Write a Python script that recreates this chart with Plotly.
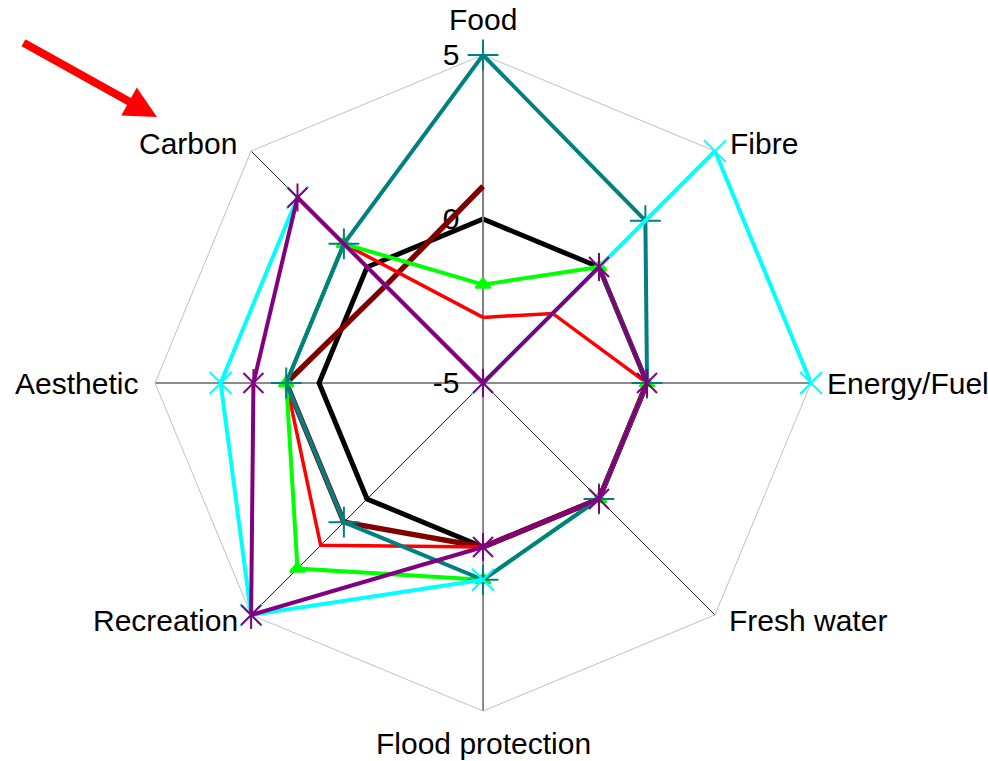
import plotly.graph_objects as go

# Ecosystem services scored from -5 to 5 for each scenario
categories = ["Food", "Fibre", "Energy/Fuel", "Fresh water",
              "Flood protection", "Recreation", "Aesthetic", "Carbon"]

baseline = [0, 0, 0, 0, 0, 0, 0, 0]
maroon_series = [1, None, 0, 0, 0, 1, 1, -0.8]
red_series = [-3, -2, 0, 0, 0, 2, 1, 1]
green_series = [-2, 0, 0, 0, 1, 3, 1, 1]
teal_series = [5, 2, 0, 0, 1, 1, 1, 1]
cyan_series = [-5, 5, 5, None, 1, 5, 3, 3]
purple_series = [-5, 0, 0, 0, 0, 5, 2, 3]

radial_ticks = [-5, 0, 5]

FONT = "Liberation Sans, Arial, sans-serif"
FONT_SIZE = 30
W, H = 988, 761


def closed(values):
    return values + values[:1]


theta = closed(categories)

# (values, colour, line width, marker symbols, marker size)
# A star marker is built from an "x" plus a vertical bar.
series = [
    (maroon_series, "#800000", 5.5, [], 0),
    (red_series, "#FF0000", 3.5, [], 0),
    (green_series, "#00FF00", 4, ["triangle-up"], 13),
    (teal_series, "#008080", 4, ["cross-thin-open"], 22),
    (cyan_series, "#00FFFF", 4, ["x-thin-open"], 22),
    (purple_series, "#800080", 4, ["x-thin-open", "line-ns-open"], 20),
]

fig = go.Figure()

# Baseline on the octagon-grid subplot
fig.add_trace(go.Scatterpolar(
    r=closed(baseline), theta=theta, mode="lines",
    line=dict(color="#000000", width=5),
    showlegend=False, hoverinfo="skip", cliponaxis=False,
    subplot="polar",
))

# Scenario series on a transparent overlay sharing the same scales
for values, color, width, symbols, msize in series:
    fig.add_trace(go.Scatterpolar(
        r=closed(values),
        theta=theta,
        mode="lines",
        connectgaps=False,
        line=dict(color=color, width=width),
        showlegend=False,
        hoverinfo="skip",
        cliponaxis=False,
        subplot="polar2",
    ))
    for symbol in symbols:
        fig.add_trace(go.Scatterpolar(
            r=values,
            theta=categories,
            mode="markers",
            marker=dict(symbol=symbol, size=msize, color=color,
                        line=dict(color=color, width=2)),
            showlegend=False,
            hoverinfo="skip",
            cliponaxis=False,
            subplot="polar2",
        ))

domain = dict(x=[0.1569, 0.8209], y=[0.0657, 0.9277])
angular_common = dict(
    type="category",
    categoryorder="array",
    categoryarray=categories,
    direction="clockwise",
    rotation=90,
)

# Category label placement: (x px, y px, horizontal anchor)
label_pos = {
    "Food": (483, 20, "center"),
    "Fibre": (728, 143, "left"),
    "Energy/Fuel": (825, 383, "left"),
    "Fresh water": (727, 620, "left"),
    "Flood protection": (483, 743, "center"),
    "Recreation": (240, 620, "right"),
    "Aesthetic": (140, 383, "right"),
    "Carbon": (239, 143, "right"),
}

annotations = [
    dict(x=label_pos[c][0] / W, y=1 - label_pos[c][1] / H,
         xref="paper", yref="paper", text=c, showarrow=False,
         xanchor=label_pos[c][2], yanchor="middle",
         font=dict(family=FONT, size=FONT_SIZE, color="black"))
    for c in categories
]
annotations.append(dict(
    x=0.1589, y=0.8463, xref="paper", yref="paper",
    text="", showarrow=True,
    ax=-135, ay=-75,
    arrowcolor="#FF0000", arrowwidth=8, arrowhead=2, arrowsize=0.8,
))

fig.update_layout(
    width=W,
    height=H,
    margin=dict(l=0, r=0, t=0, b=0),
    paper_bgcolor="white",
    plot_bgcolor="white",
    font=dict(family=FONT, size=FONT_SIZE, color="black"),
    showlegend=False,
    polar=dict(
        domain=domain,
        bgcolor="white",
        gridshape="linear",
        angularaxis=dict(
            **angular_common,
            showgrid=True,
            gridcolor="#1a1a1a",
            gridwidth=1,
            showline=True,
            linecolor="#c0c0c0",
            linewidth=1,
            ticks="",
            showticklabels=False,
        ),
        radialaxis=dict(
            range=[-5, 5],
            tickvals=radial_ticks,
            ticktext=[str(v) for v in radial_ticks],
            showgrid=False,
            showline=True,
            linecolor="#808080",
            linewidth=2,
            angle=90,
            side="counterclockwise",
            tickangle=90,
            ticks="outside",
            ticklen=12,
            tickcolor="rgba(0,0,0,0)",
            tickfont=dict(family=FONT, size=FONT_SIZE, color="black"),
        ),
    ),
    polar2=dict(
        domain=domain,
        bgcolor="rgba(0,0,0,0)",
        gridshape="circular",
        angularaxis=dict(
            **angular_common,
            showgrid=False, showline=False, showticklabels=False, ticks="",
        ),
        radialaxis=dict(
            range=[-5, 5], angle=90,
            showgrid=False, showline=False, showticklabels=False, ticks="",
        ),
    ),
    annotations=annotations,
)

fig.write_html("out.html")
